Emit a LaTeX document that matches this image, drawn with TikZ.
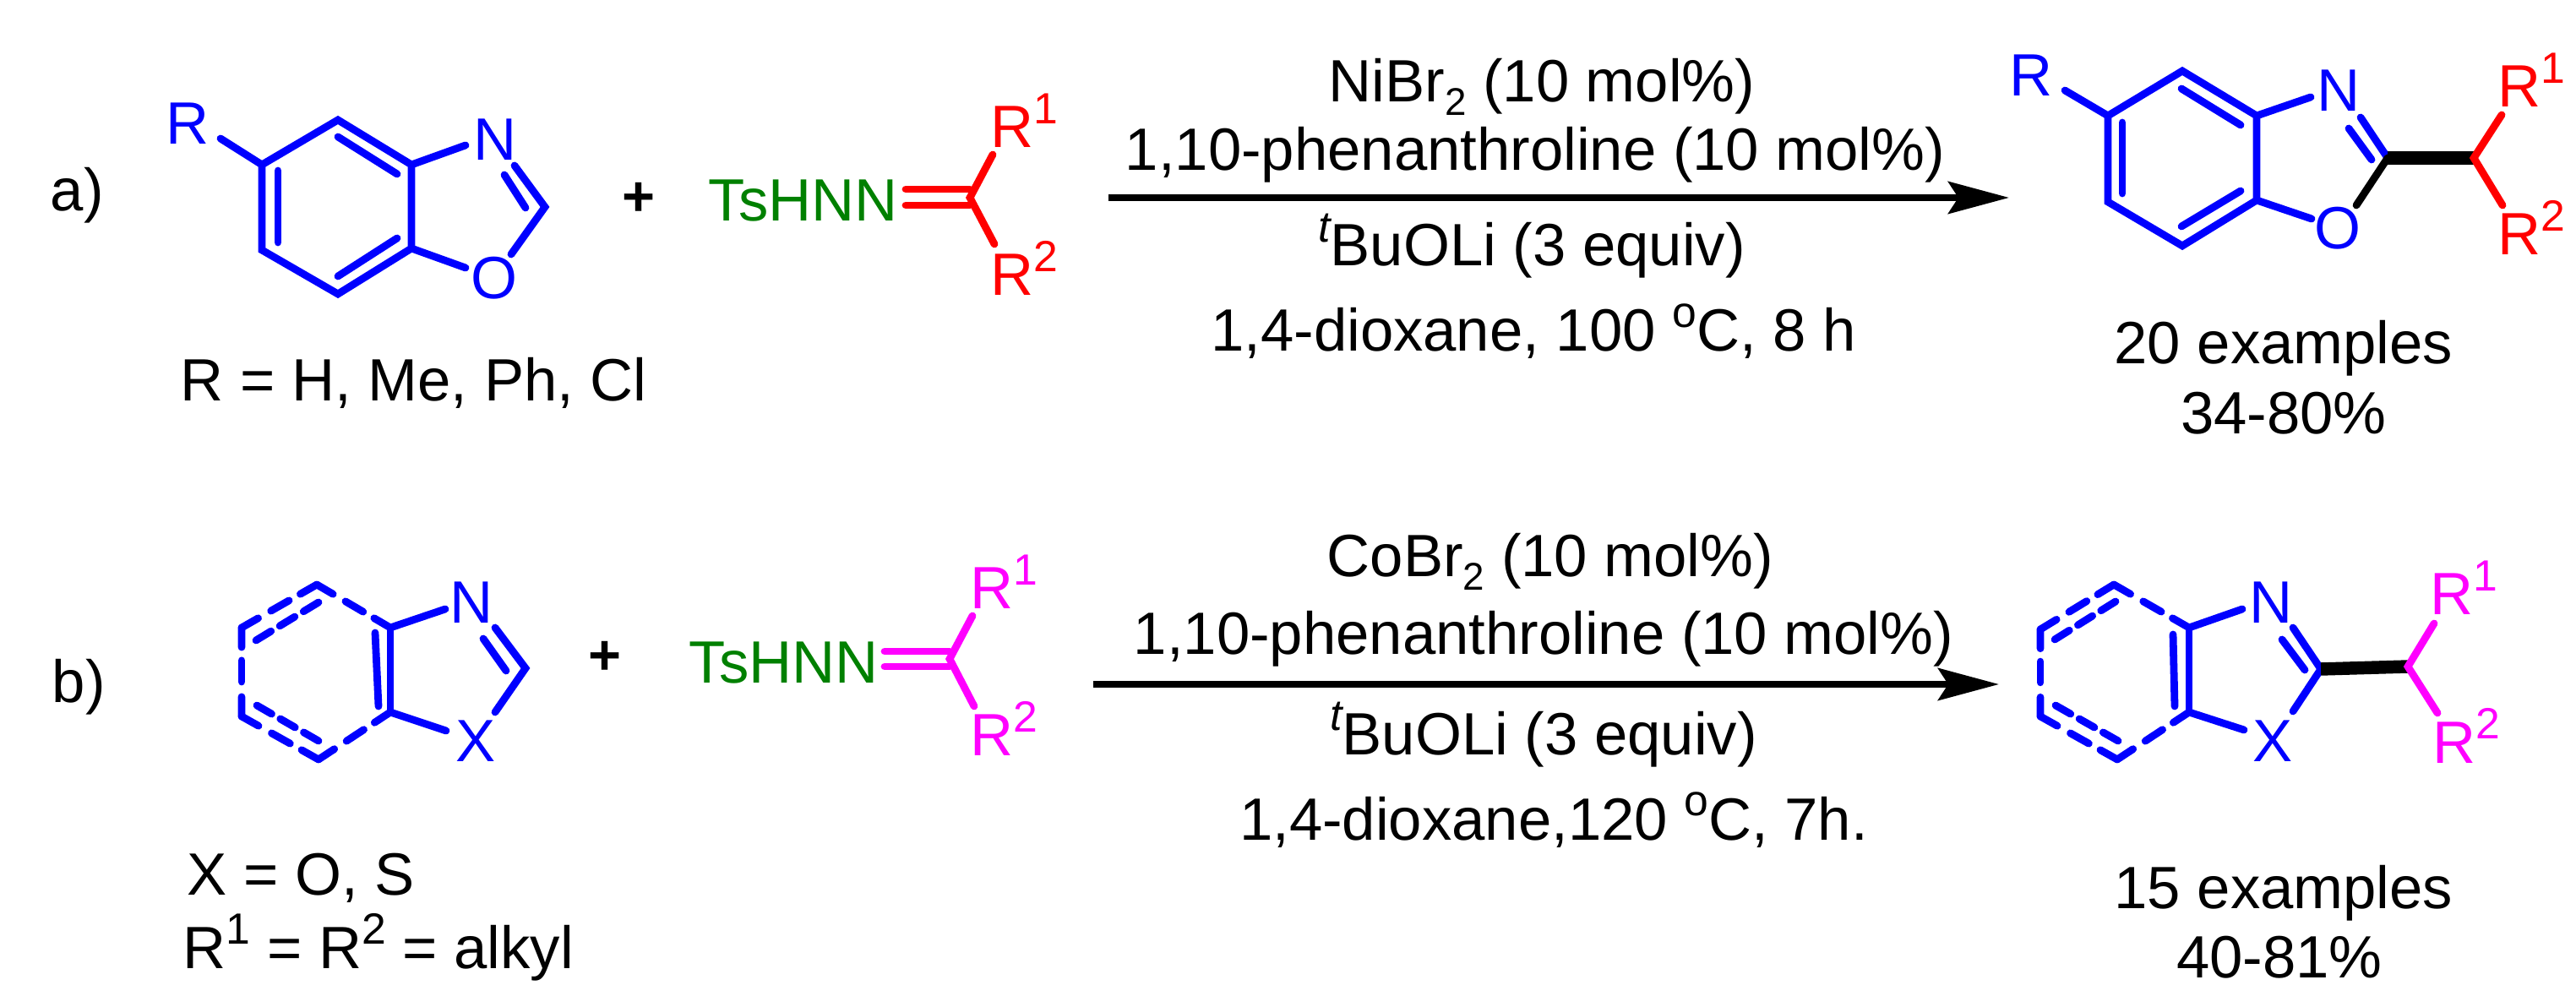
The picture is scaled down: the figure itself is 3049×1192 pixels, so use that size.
\documentclass[tikz,border=0pt]{standalone}
\usepackage{fontspec}
\setmainfont{Liberation Sans}
\usepackage{xcolor}
\usetikzlibrary{calc,arrows.meta}
\definecolor{tsgreen}{RGB}{0,128,0}
\definecolor{rblue}{RGB}{0,0,255}
\definecolor{rred}{RGB}{255,0,0}
\definecolor{rpink}{RGB}{255,0,255}
\newcommand{\supr}[1]{\raisebox{8.2pt}{\fontsize{14.7}{16}\selectfont #1}}
\newcommand{\subr}[1]{\raisebox{-4.4pt}{\fontsize{13}{15}\selectfont #1}}
\newcommand{\ringdash}[2]{\foreach \u/\v in {0/.22,.39/.63,.78/1} \draw[bond,rblue] ($(#1)!\u!(#2)$) -- ($(#1)!\v!(#2)$);}
\newcommand{\innerdash}[2]{\foreach \u/\v in {0/.24,.38/.62,.76/1} \draw[bond,rblue] ($(#1)!\u!(#2)$) -- ($(#1)!\v!(#2)$);}
\tikzset{
  bond/.style={line width=2.5pt, line cap=round, line join=miter},
  widebond/.style={line width=4.4pt},
  rxnarrow/.style={line width=2.3pt, -{Stealth[length=0.72cm,width=0.38cm,inset=0.12cm]}},
  lab/.style={inner sep=0, anchor=base, font=\fontsize{20.1}{24}\selectfont},
  labw/.style={lab, anchor=base west}
}
\begin{document}
\begin{tikzpicture}[x=0.01cm,y=-0.01cm]
\useasboundingbox (0,0) rectangle (3049,1192);

% a) benzoxazole
\coordinate (a1) at (400,142); \coordinate (a2) at (487,195); \coordinate (a3) at (487,294);
\coordinate (a4) at (400,348); \coordinate (a5) at (310,296); \coordinate (a6) at (310,195);
\coordinate (ac) at (645,245);
\draw[bond,rblue] (a1) -- (a2) -- (a3) -- (a4) -- (a5) -- (a6) -- cycle;
\draw[bond,rblue] (a6) -- (261,164);
\draw[bond,rblue] (a2) -- (551,172);
\draw[bond,rblue] (a3) -- (551,317);
\draw[bond,rblue] (609,196) -- (ac) -- (605,301);
\draw[bond,rblue] (597,207) -- (622,246);
\draw[bond,rblue] (400,162) -- (470,206);
\draw[bond,rblue] (329,202) -- (329,287);
\draw[bond,rblue] (400,327) -- (470,282);
\node[lab,rblue] (ra) at (222,171) {R};
\node[lab,rblue] (na) at (586,190) {N};
\node[lab,rblue] (oa) at (585,354) {O};
\node[labw] (la) at (59,250) {a)};
\node[lab,font=\fontsize{19}{24}\selectfont\bfseries] (pa) at (756,256) {+};

% a) hydrazone
\coordinate (ha) at (1148,234);
\draw[bond,rred] (1072,224) -- (1148,224);
\draw[bond,rred] (1072,243) -- (1148,243);
\draw[bond,rred] (1175,183) -- (ha) -- (1177,289);
\node[labw,tsgreen] (tsa) at (838,262) {TsHNN};
\node[labw,rred] (r1a) at (1172,175) {R\supr{1}};
\node[labw,rred] (r2a) at (1172,350) {R\supr{2}};
\node[labw] (lista) at (213,475) {R = H, Me, Ph, Cl};

% a) conditions
\coordinate (as) at (1312,234); \coordinate (ae) at (2378,234);
\draw[rxnarrow] (as) -- (ae);
\node[lab] (ca1) at (1825,121) {NiBr\subr{2} (10 mol\%)};
\node[lab] (ca2) at (1817,202) {1,10-phenanthroline (10 mol\%)};
\node[lab] (ca3) at (1813,315) {\supr{\itshape t}BuOLi (3 equiv)};
\node[lab] (ca4) at (1815,416) {1,4-dioxane, 100 \supr{o}C, 8 h};

% a) product
\coordinate (c1) at (2583,84); \coordinate (c2) at (2671,137); \coordinate (c3) at (2671,237);
\coordinate (c4) at (2583,291); \coordinate (c5) at (2495,239); \coordinate (c6) at (2495,137);
\coordinate (cc) at (2826,187); \coordinate (cd) at (2928,187);
\draw[bond,rblue] (c1) -- (c2) -- (c3) -- (c4) -- (c5) -- (c6) -- cycle;
\draw[bond,rblue] (c6) -- (2444,107);
\draw[bond,rblue] (c2) -- (2735,115);
\draw[bond,rblue] (c3) -- (2736,259);
\draw[bond,rblue] (2794,139) -- (cc);
\draw[bond,rblue] (2780,152) -- (2807,189);
\draw[bond,rblue] (2512,145) -- (2512,229);
\draw[bond,rblue] (2582,105) -- (2652,148);
\draw[bond,rblue] (2582,268) -- (2652,226);
\draw[bond] (cc) -- (2789,243);
\draw[widebond] (cc) -- (cd);
\draw[bond,rred] (2961,136) -- (cd) -- (2962,243);
\node[lab,rblue] (rc) at (2404,114) {R};
\node[lab,rblue] (nc) at (2768,132) {N};
\node[lab,rblue] (oc) at (2767,295) {O};
\node[labw,rred] (r1c) at (2956,127) {R\supr{1}};
\node[labw,rred] (r2c) at (2956,302) {R\supr{2}};
\node[lab] (ya1) at (2703,431) {20 examples};
\node[lab] (ya2) at (2703,514) {34-80\%};

% b) azole
\coordinate (b1) at (375,692); \coordinate (b2) at (462,743); \coordinate (b3) at (462,843);
\coordinate (b4) at (377,899); \coordinate (b5) at (286,848); \coordinate (b6) at (286,743);
\coordinate (bc) at (622,791);
\ringdash{b6}{b1} \ringdash{b1}{b2} \ringdash{b5}{b6}
\ringdash{b5}{b4} \ringdash{b4}{b3}
\innerdash{303,758}{377,713}
\innerdash{304,835}{377,877}
\draw[bond,rblue] (b2) -- (b3);
\draw[bond,rblue] (444,749) -- (448,836);
\draw[bond,rblue] (b2) -- (527,721);
\draw[bond,rblue] (b3) -- (528,865);
\draw[bond,rblue] (586,743) -- (bc) -- (586,843);
\draw[bond,rblue] (572,756) -- (599,794);
\node[lab,rblue] (nb) at (558,738) {N};
\node[lab,rblue] (xb) at (563,901) {X};
\node[labw] (lb) at (61,832) {b)};
\node[lab,font=\fontsize{19}{24}\selectfont\bfseries] (pb) at (716,799) {+};

% b) hydrazone
\coordinate (hb) at (1124,780);
\draw[bond,rpink] (1047,771) -- (1124,771);
\draw[bond,rpink] (1047,789) -- (1124,789);
\draw[bond,rpink] (1151,729) -- (hb) -- (1153,836);
\node[labw,tsgreen] (tsb) at (815,808) {TsHNN};
\node[labw,rpink] (r1b) at (1148,721) {R\supr{1}};
\node[labw,rpink] (r2b) at (1148,895) {R\supr{2}};
\node[labw] (listb1) at (221,1059) {X = O, S};
\node[labw] (listb2) at (216,1146) {R\supr{1} = R\supr{2} = alkyl};

% b) conditions
\coordinate (bs) at (1294,810); \coordinate (be) at (2366,810);
\draw[rxnarrow] (bs) -- (be);
\node[lab] (cb1) at (1835,683) {CoBr\subr{2} (10 mol\%)};
\node[lab] (cb2) at (1827,775) {1,10-phenanthroline (10 mol\%)};
\node[lab] (cb3) at (1827,893) {\supr{\itshape t}BuOLi (3 equiv)};
\node[lab] (cb4) at (1839,994) {1,4-dioxane,120 \supr{o}C, 7h.};

% b) product
\coordinate (d1) at (2502,692); \coordinate (d2) at (2591,743); \coordinate (d3) at (2591,843);
\coordinate (d4) at (2506,899); \coordinate (d5) at (2415,848); \coordinate (d6) at (2415,745);
\coordinate (dc) at (2747,792); \coordinate (dd) at (2850,789);
\ringdash{d6}{d1} \ringdash{d1}{d2} \ringdash{d5}{d6}
\ringdash{d5}{d4} \ringdash{d4}{d3}
\innerdash{2432,757}{2504,712}
\innerdash{2433,835}{2507,877}
\draw[bond,rblue] (d2) -- (d3);
\draw[bond,rblue] (2572,751) -- (2574,836);
\draw[bond,rblue] (d2) -- (2654,721);
\draw[bond,rblue] (d3) -- (2656,864);
\draw[bond,rblue] (2714,743) -- (dc) -- (2714,842);
\draw[bond,rblue] (2701,757) -- (2728,793);
\draw[widebond] (dc) -- (dd);
\draw[bond,rpink] (2881,738) -- (dd) -- (2885,844);
\node[lab,rblue] (nd) at (2688,738) {N};
\node[lab,rblue] (xd) at (2690,901) {X};
\node[labw,rpink] (r1d) at (2876,728) {R\supr{1}};
\node[labw,rpink] (r2d) at (2879,903) {R\supr{2}};
\node[lab] (yb1) at (2703,1075) {15 examples};
\node[lab] (yb2) at (2698,1157) {40-81\%};
\end{tikzpicture}
\end{document}
